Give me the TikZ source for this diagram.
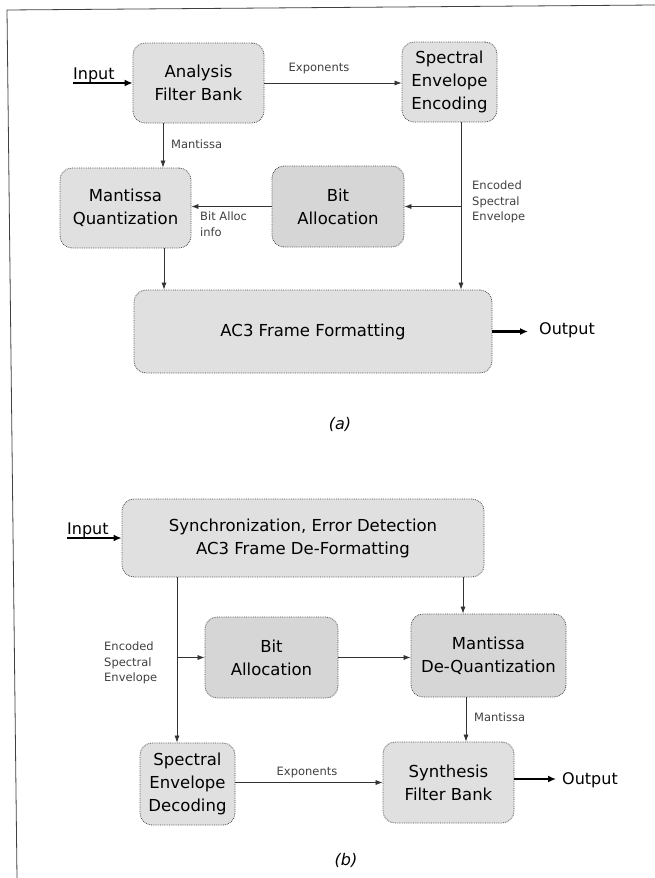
\documentclass[tikz,border=0pt]{standalone}
\usepackage{fontspec}
\setmainfont{DejaVu Sans}
\usepackage{tikz}
\usetikzlibrary{arrows.meta}

\tikzset{
  blk/.style={draw=black!70, densely dotted, line width=0.8pt, fill=gray!24,
    rounded corners=12pt, align=center, inner sep=0pt,
    font=\fontsize{16.5}{23}\selectfont},
  blkdark/.style={blk, fill=gray!32},
  conn/.style={draw=black!80, line width=0.7pt, -{Latex[length=7pt,width=5pt]}},
  connline/.style={draw=black!80, line width=0.7pt},
  ioarrow/.style={draw=black, line width=2.2pt, -{Latex[length=8pt,width=7pt]}},
  lbl/.style={font=\fontsize{11.5}{15.3}\selectfont, text=black!75, align=left, inner sep=0pt},
  iotext/.style={font=\fontsize{16}{19}\selectfont, inner sep=0pt},
  caption/.style={font=\itshape\fontsize{16}{19}\selectfont, inner sep=0pt},
}

\begin{document}
\begin{tikzpicture}[x=1pt,y=-1pt]
\useasboundingbox (0,0) rectangle (655,878);
% page frame
\draw [black!75, line width=0.8pt] (17,878) -- (7,10) -- (655,5);

%% (a) encoder
\node[blk, minimum width=131pt, minimum height=80pt] (afb) at (198.5,83) {Analysis\\Filter Bank};
\node[blk, minimum width=95pt, minimum height=80pt] (see) at (449.5,82) {Spectral\\Envelope\\Encoding};
\node[blk, minimum width=131pt, minimum height=80pt] (mq) at (125.5,208) {Mantissa\\Quantization};
\node[blkdark, minimum width=132pt, minimum height=81pt] (ba) at (338,206.5) {Bit\\Allocation};
\node[blk, minimum width=358pt, minimum height=83pt] (ac3) at (313,331.5) {AC3 Frame Formatting};

\coordinate (ina) at (73,83);
\node[iotext, anchor=base west] (inlbla) at (73,79) {Input};
\coordinate (outa) at (528,331.5);
\node[iotext, anchor=west] (outlbla) at (539,330) {Output};

\draw[ioarrow] (ina) -- (afb.west);
\draw[conn] (afb.east) -- (afb.east -| see.west);
\node[lbl] (expa) at (319,69) {Exponents};
\draw[conn] ([xshift=-35.5pt]afb.south) -- ([xshift=-35.5pt]afb.south |- mq.north);
\node[lbl, anchor=west] (mana) at (171,144) {Mantissa};
\coordinate (bra) at ([xshift=11.5pt]see.south |- ba.east);
\draw[connline] ([xshift=11.5pt]see.south) -- (bra);
\draw[conn] (bra) -- ([xshift=11.5pt]see.south |- ac3.north);
\draw[conn] (bra) -- (ba.east);
\node[lbl, anchor=north west] (esea) at (472,181) {Encoded\\Spectral\\Envelope};
\draw[conn] (ba.west) -- (ba.west -| mq.east);
\node[lbl, anchor=north west] (bai) at (200,212) {Bit Alloc\\info};
\draw[conn] ([xshift=38.5pt]mq.south) -- ([xshift=38.5pt]mq.south |- ac3.north);
\draw[ioarrow] (ac3.east) -- (outa);

\node[caption] (capa) at (340,424) {(a)};

%% (b) decoder
\node[blk, minimum width=362pt, minimum height=78pt] (sync) at (303,538) {Synchronization, Error Detection\\AC3 Frame De-Formatting};
\node[blkdark, minimum width=133pt, minimum height=81pt] (bab) at (271.5,657.5) {Bit\\Allocation};
\node[blkdark, minimum width=155pt, minimum height=83pt] (mdq) at (488.5,655.5) {Mantissa\\De-Quantization};
\node[blk, minimum width=95pt, minimum height=82pt] (sed) at (187.5,784) {Spectral\\Envelope\\Decoding};
\node[blk, minimum width=131pt, minimum height=81pt] (sfb) at (448.5,782.5) {Synthesis\\Filter Bank};

\coordinate (inb) at (67,538);
\node[iotext, anchor=base west] (inlblb) at (67,534) {Input};
\coordinate (outb) at (556,779);
\node[iotext, anchor=west] (outlblb) at (562,780) {Output};

\draw[ioarrow] (inb) -- (sync.west);
\coordinate (brb) at ([xshift=-10.5pt]sed.north |- bab.west);
\draw[connline] ([xshift=-10.5pt]sed.north |- sync.south) -- (brb);
\draw[conn] (brb) -- ([xshift=-10.5pt]sed.north);
\draw[conn] (brb) -- (bab.west);
\node[lbl, anchor=north west] (eseb) at (104,642) {Encoded\\Spectral\\Envelope};
\draw[conn] ([xshift=-25.5pt]mdq.north |- sync.south) -- ([xshift=-25.5pt]mdq.north);
\draw[conn] (bab.east) -- (bab.east -| mdq.west);
\draw[conn] ([xshift=17.5pt]sfb.north |- mdq.south) -- ([xshift=17.5pt]sfb.north);
\node[lbl, anchor=west] (manb) at (474,717) {Mantissa};
\draw[conn] (sed.east |- sfb.west) -- (sfb.west);
\node[lbl] (expb) at (307,772) {Exponents};
\draw[ioarrow] (sfb.east |- outb) -- (outb);

\node[caption] (capb) at (346,860) {(b)};
\end{tikzpicture}
\end{document}
